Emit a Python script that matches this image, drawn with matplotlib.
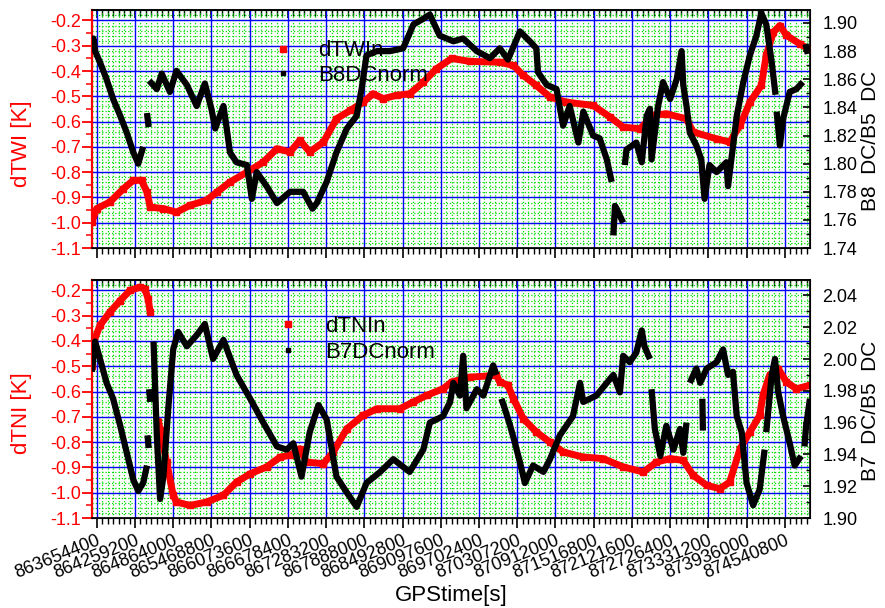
import numpy as np
import matplotlib
matplotlib.use("Agg")
import matplotlib.pyplot as plt
from matplotlib.ticker import MultipleLocator, FuncFormatter
from matplotlib.lines import Line2D

plt.rcParams['font.family'] = ['Liberation Sans', 'DejaVu Sans']

nan = np.nan
T0 = 863654400      # GPS time of the first labelled tick
DAY = 86400
WEEK = 7 * DAY

# ---- top panel: dTWIn [K] (days after T0)
twi_days = [-0.9, 0, 2.4, 4.9, 6.7, 8.2, 9.2, 9.8, 12.2, 14.6, 17.1, 20.1, 22, 24.4, 27.5,
            30.5, 33, 35.4, 37.2, 39, 41.5, 43.9, 46.4, 48.8, 50.6, 52.5, 54.9, 57.3, 59.8,
            62.2, 65, 68.3, 73.8, 76.3, 78.1, 80.5, 83, 86, 90.9, 94, 96.4, 99.5, 101.9,
            104.3, 108, 109.2, 113.5, 115.9, 117.8, 119.6, 121.7, 122.6, 123.9, 125.1,
            126.3, 128.7, 130.3]
twi_vals = [-0.997, -0.944, -0.918, -0.865, -0.832, -0.832, -0.879, -0.938, -0.944, -0.958,
            -0.931, -0.911, -0.879, -0.839, -0.80, -0.76, -0.707, -0.72, -0.674, -0.72,
            -0.681, -0.589, -0.556, -0.523, -0.49, -0.509, -0.496, -0.49, -0.444, -0.391,
            -0.35, -0.362, -0.365, -0.378, -0.417, -0.457, -0.503, -0.523, -0.536, -0.582,
            -0.622, -0.628, -0.575, -0.569, -0.589, -0.641, -0.668, -0.681, -0.615, -0.523,
            -0.457, -0.338, -0.246, -0.22, -0.259, -0.292, -0.312]

# ---- top panel: B8 DC / B5 DC (nan = gap in the record)
b8_days = [-0.9, -0.6, -0.3, 0.6, 1.8, 3.0, 4.3, 5.5, 6.7, 7.6, 8.5, nan,
           9.2, 9.5, nan,
           9.6, 11, 11.9, 13.4, 14.6, 16.5, 18.3, 19.8, 21, 21.7, 23.2, 23.8, 24.4, 25.6,
           27.5, 28.4, 29.3, 31.1, 33, 35.4, 37.8, 39.5, 40.3, 42.1, 43.9, 45.8, 47.6, 48.5,
           49.4, 51.3, 53.7, 56.1, 58, 59.8, 61, 62.8, 65.3, 67.1, 69.6, 72, 73.8, 75.3,
           77.5, 79.3, 80.5, 80.8, 82.4, 84.2, 85.4, 86.6, 88.2, 89.1, 90.9, 92.1, 93.4,
           94.3, nan,
           94.6, 94.9, 95.2, 96.4, nan,
           96.7, 97, 98.8, 99.8, 100.7, 101.3, 101.6, 102.8, 103.7, 105, 106.2, 107.1,
           107.4, 108, 108.6, 109.8, 110.7, 111.3, 112.2, 113.5, 115.3, 115.6, 117.2,
           118.4, 119.6, 120.8, 121.7, 122.6, 123.6, 124.3, nan,
           124.5, 125.1, 125.7, 126.9, 128.1, 129.3, nan,
           129.8, 130.2]
b8_vals = [1.885, 1.889, 1.880, 1.872, 1.860, 1.846, 1.834, 1.822, 1.808, 1.800, 1.812, nan,
           1.836, 1.826, nan,
           1.859, 1.853, 1.864, 1.851, 1.866, 1.856, 1.841, 1.857, 1.839, 1.825, 1.841,
           1.825, 1.808, 1.801, 1.799, 1.775, 1.794, 1.784, 1.772, 1.780, 1.780, 1.768,
           1.772, 1.787, 1.808, 1.825, 1.834, 1.853, 1.877, 1.880, 1.880, 1.882, 1.899,
           1.903, 1.906, 1.891, 1.887, 1.889, 1.880, 1.875, 1.882, 1.874, 1.894, 1.887,
           1.882, 1.865, 1.856, 1.853, 1.827, 1.841, 1.815, 1.837, 1.820, 1.818, 1.803,
           1.787, nan,
           1.749, 1.770, 1.768, 1.758, nan,
           1.799, 1.810, 1.815, 1.801, 1.834, 1.839, 1.803, 1.841, 1.858, 1.846, 1.860,
           1.880, 1.856, 1.841, 1.822, 1.813, 1.803, 1.775, 1.799, 1.794, 1.801, 1.784,
           1.834, 1.858, 1.877, 1.891, 1.907, 1.899, 1.872, 1.849, nan,
           1.837, 1.813, 1.832, 1.851, 1.853, 1.858, nan,
           1.885, 1.878]

# ---- bottom panel: dTNIn [K]
tni_days = [-0.9, -0.5, 0.6, 2.4, 4.3, 6.1, 7.9, 8.8, 9.4, 9.8, nan,
            11.3, 11.6, 12.8, 14, 14.6, 17.1, 20.1, 23.2, 25.6, 28.1, 31.1, 33.6, 35.4,
            37.2, 38.4, 41.5, 43.3, 45.8, 48.8, 51.3, 55.5, 58, 60.4, 63.4, 65, 68.3, 73.2,
            73.8, 75.3, 76.3, 78.1, 80.5, 83, 85.4, 89.1, 92.7, 96.4, 100.1, 102.5, 105,
            107.4, 109.2, 111.7, 114.1, 115.9, 117.8, 119.6, 121.4, 122, 123.2, 124.8,
            126.3, 128.1, 130.6]
tni_vals = [-0.50, -0.40, -0.338, -0.286, -0.24, -0.20, -0.187, -0.193, -0.233, -0.286, nan,
            -0.72, -0.75, -0.879, -1.01, -1.037, -1.05, -1.037, -1.01, -0.958, -0.925,
            -0.898, -0.859, -0.852, -0.826, -0.879, -0.885, -0.839, -0.747, -0.694, -0.668,
            -0.668, -0.641, -0.615, -0.589, -0.562, -0.543, -0.536, -0.562, -0.575, -0.628,
            -0.707, -0.76, -0.80, -0.839, -0.859, -0.865, -0.898, -0.918, -0.879, -0.865,
            -0.872, -0.931, -0.971, -0.984, -0.958, -0.826, -0.76, -0.694, -0.615, -0.536,
            -0.510, -0.562, -0.589, -0.575]

# ---- bottom panel: B7 DC / B5 DC
b7_days = [-0.9, -0.3, 0.6, 1.8, 3.0, 4.3, 5.5, 6.7, 7.6, 8.5, 9.2, nan,
           9.3, 9.5, nan,
           9.6, 9.8, nan,
           10.4, 11, 11.6, 12.2, 13.1, 14, 14.9, 16.5, 18.3, 19.8, 21.3, 23.2, 25.6, 28.1,
           30.5, 33, 34.8, 36, 37.5, 39, 40.6, 42.1, 43.9, 45.8, 47.6, 49.4, 51.9, 54.3,
           57.3, 59.8, 61, 63.4, 64.7, 65.3, 66.5, 67.1, 67.7, 69.6, 70.8, 72.6, 73.2, nan,
           74.1, 74.7, 75.7, 76.6, 77.5, 78.4, 79.9, 81.8, 83, 84.8, 87.2, 88.5, 89.1, 91.5,
           93.4, 94.6, 95.8, 96.4, 97.6, 98.8, 99.8, 100.3, 101.3, nan,
           101.6, 102.2, 103.2, 104.3, 105.6, 106.8, 107.4, 108, nan,
           108.6, 109.8, 110.5, 111.7, 113.5, 114.7, 115.6, 116.5, 117.2, 118.1, 119,
           120.2, 121.4, 122.3, nan,
           110.9, 111.0, nan,
           122.6, 123.6, 124.2, 124.8, 125.7, 126.9, 127.8, 129, nan,
           129.6, 129.9, 130.6]
b7_vals = [1.992, 2.011, 2.000, 1.985, 1.975, 1.958, 1.941, 1.924, 1.917, 1.922, 1.933, nan,
           1.952, 1.944, nan,
           1.981, 1.973, nan,
           2.011, 1.952, 1.912, 1.926, 1.969, 2.006, 2.017, 2.008, 2.015, 2.022, 2.000,
           2.012, 1.990, 1.975, 1.960, 1.945, 1.943, 1.947, 1.926, 1.954, 1.971, 1.962,
           1.926, 1.916, 1.907, 1.922, 1.929, 1.937, 1.929, 1.943, 1.960, 1.964, 1.973,
           1.985, 1.977, 2.002, 1.969, 1.981, 1.977, 1.996, 1.990, nan,
           1.975, 1.969, 1.958, 1.947, 1.935, 1.922, 1.933, 1.929, 1.937, 1.952, 1.964,
           1.985, 1.973, 1.977, 1.985, 1.990, 1.979, 2.002, 1.998, 2.004, 2.018, 2.008,
           2.000, nan,
           1.981, 1.956, 1.939, 1.958, 1.943, 1.956, 1.941, 1.960, nan,
           1.985, 1.994, 1.985, 1.994, 1.998, 2.006, 1.990, 1.992, 1.964, 1.954, 1.922,
           1.908, 1.918, 1.943, nan,
           1.975, 1.955, nan,
           1.954, 1.990, 2.000, 1.979, 1.964, 1.947, 1.933, 1.939, nan,
           1.945, 1.958, 1.975]


def gps(days):
    return T0 + np.array(days, dtype=float) * DAY


def setup_panel(ax, axr, ylim_l, ylim_r, label_l, label_r, show_x):
    ax.set_xlim(T0 - 0.86 * DAY, T0 + 130.57 * DAY)
    ax.set_ylim(*ylim_l)
    axr.set_ylim(*ylim_r)

    ax.xaxis.set_major_locator(MultipleLocator(WEEK))
    ax.xaxis.set_minor_locator(MultipleLocator(DAY))
    ax.xaxis.set_major_formatter(FuncFormatter(lambda v, p: "%d" % round(v)))
    ax.yaxis.set_major_locator(MultipleLocator(0.1))
    ax.yaxis.set_minor_locator(MultipleLocator(0.05))
    ax.yaxis.set_major_formatter(FuncFormatter(lambda v, p: "%.1f" % v))
    axr.yaxis.set_major_locator(MultipleLocator(0.02))
    axr.yaxis.set_minor_locator(MultipleLocator(0.01))
    axr.yaxis.set_major_formatter(FuncFormatter(lambda v, p: "%.2f" % v))

    # grid: blue majors, green dotted minors
    ax.set_axisbelow(True)
    ax.grid(which='major', color='#0000ff', lw=1.0)
    ax.grid(which='minor', axis='x', color='#00dd00', lw=0.9, ls=(0, (1, 1.6)))
    ax.hlines(np.arange(-1.10, -0.15, 0.02), 0, 1, transform=ax.get_yaxis_transform(),
              colors='#00dd00', lw=0.9, linestyles=(0, (1, 1.6)), zorder=0.4)

    ax.tick_params(axis='x', which='major', direction='out', length=7, width=1.2,
                   labelsize=13, pad=3, labelbottom=show_x)
    ax.tick_params(axis='x', which='minor', direction='out', length=4, width=1)
    ax.tick_params(axis='y', which='major', direction='out', length=7, width=1.3,
                   colors='red', labelsize=13, pad=1)
    ax.tick_params(axis='y', which='minor', direction='out', length=4, width=1.1,
                   colors='red')
    axr.tick_params(axis='y', which='major', direction='in', length=5, width=1.2,
                    labelsize=13, pad=9)
    axr.tick_params(axis='y', which='minor', direction='in', length=3, width=1)

    top = ax.secondary_xaxis('top')
    top.xaxis.set_major_locator(MultipleLocator(WEEK))
    top.xaxis.set_minor_locator(MultipleLocator(DAY))
    top.tick_params(which='major', direction='in', length=6, width=1.2, labeltop=False)
    top.tick_params(which='minor', direction='in', length=4, width=1)
    top.spines['top'].set_linewidth(1.2)

    for s in ['bottom', 'top']:
        ax.spines[s].set_linewidth(1.2)
    ax.spines['left'].set_color('red')
    ax.spines['left'].set_linewidth(1.6)
    axr.spines['left'].set_visible(False)
    axr.spines['right'].set_linewidth(1.2)

    ax.set_ylabel(label_l, color='red', fontsize=16)
    ax.yaxis.set_label_coords(-0.0836, 0.44)
    axr.set_ylabel(label_r, fontsize=15, rotation=90)
    axr.yaxis.set_label_coords(1.071, 0.45)


fig = plt.figure(figsize=(8.85, 6.08), dpi=100)
ax1 = fig.add_axes([0.104, 0.592, 0.811, 0.391])
ax1r = ax1.twinx()
ax2 = fig.add_axes([0.104, 0.148, 0.811, 0.391])
ax2r = ax2.twinx()

setup_panel(ax1, ax1r, (-1.1, -0.16), (1.74, 1.909), "dTWI [K]", "B8  DC/B5  DC", False)
setup_panel(ax2, ax2r, (-1.1, -0.16), (1.90, 2.0495), "dTNI [K]", "B7  DC/B5  DC", True)

# series
ax1.plot(gps(twi_days), twi_vals, color='red', lw=5, marker='s', ms=4.5, zorder=3)
ax1r.plot(gps(b8_days), b8_vals, color='black', lw=4.5, solid_capstyle='butt', zorder=3)
ax2.plot(gps(tni_days), tni_vals, color='red', lw=5, marker='s', ms=4.5, zorder=3)
ax2r.plot(gps(b7_days), b7_vals, color='black', lw=4.5, solid_capstyle='butt', zorder=3)

# legends
h1 = [Line2D([], [], ls='none', marker='s', color='red', ms=5),
      Line2D([], [], ls='none', marker='s', color='black', ms=3)]
ax1.legend(h1, ["dTWIn", "B8DCnorm"], loc='upper left', bbox_to_anchor=(0.251, 0.874),
           frameon=False, fontsize=16, handlelength=1.0, handletextpad=1.08,
           borderpad=0, borderaxespad=0, labelspacing=0.15)
h2 = [Line2D([], [], ls='none', marker='s', color='red', ms=4),
      Line2D([], [], ls='none', marker='s', color='black', ms=3)]
ax2.legend(h2, ["dTNIn", "B7DCnorm"], loc='upper left', bbox_to_anchor=(0.2577, 0.849),
           frameon=False, fontsize=16, handlelength=1.0, handletextpad=1.17,
           borderpad=0, borderaxespad=0, labelspacing=0.2)

# x tick labels rotated
for lab in ax2.get_xticklabels():
    lab.set_rotation(22)
    lab.set_ha('right')
    lab.set_rotation_mode('anchor')
ax2.set_xlabel("GPStime[s]", fontsize=16)
ax2.xaxis.set_label_coords(0.5, -0.28)

fig.savefig("out.png", dpi=100)
